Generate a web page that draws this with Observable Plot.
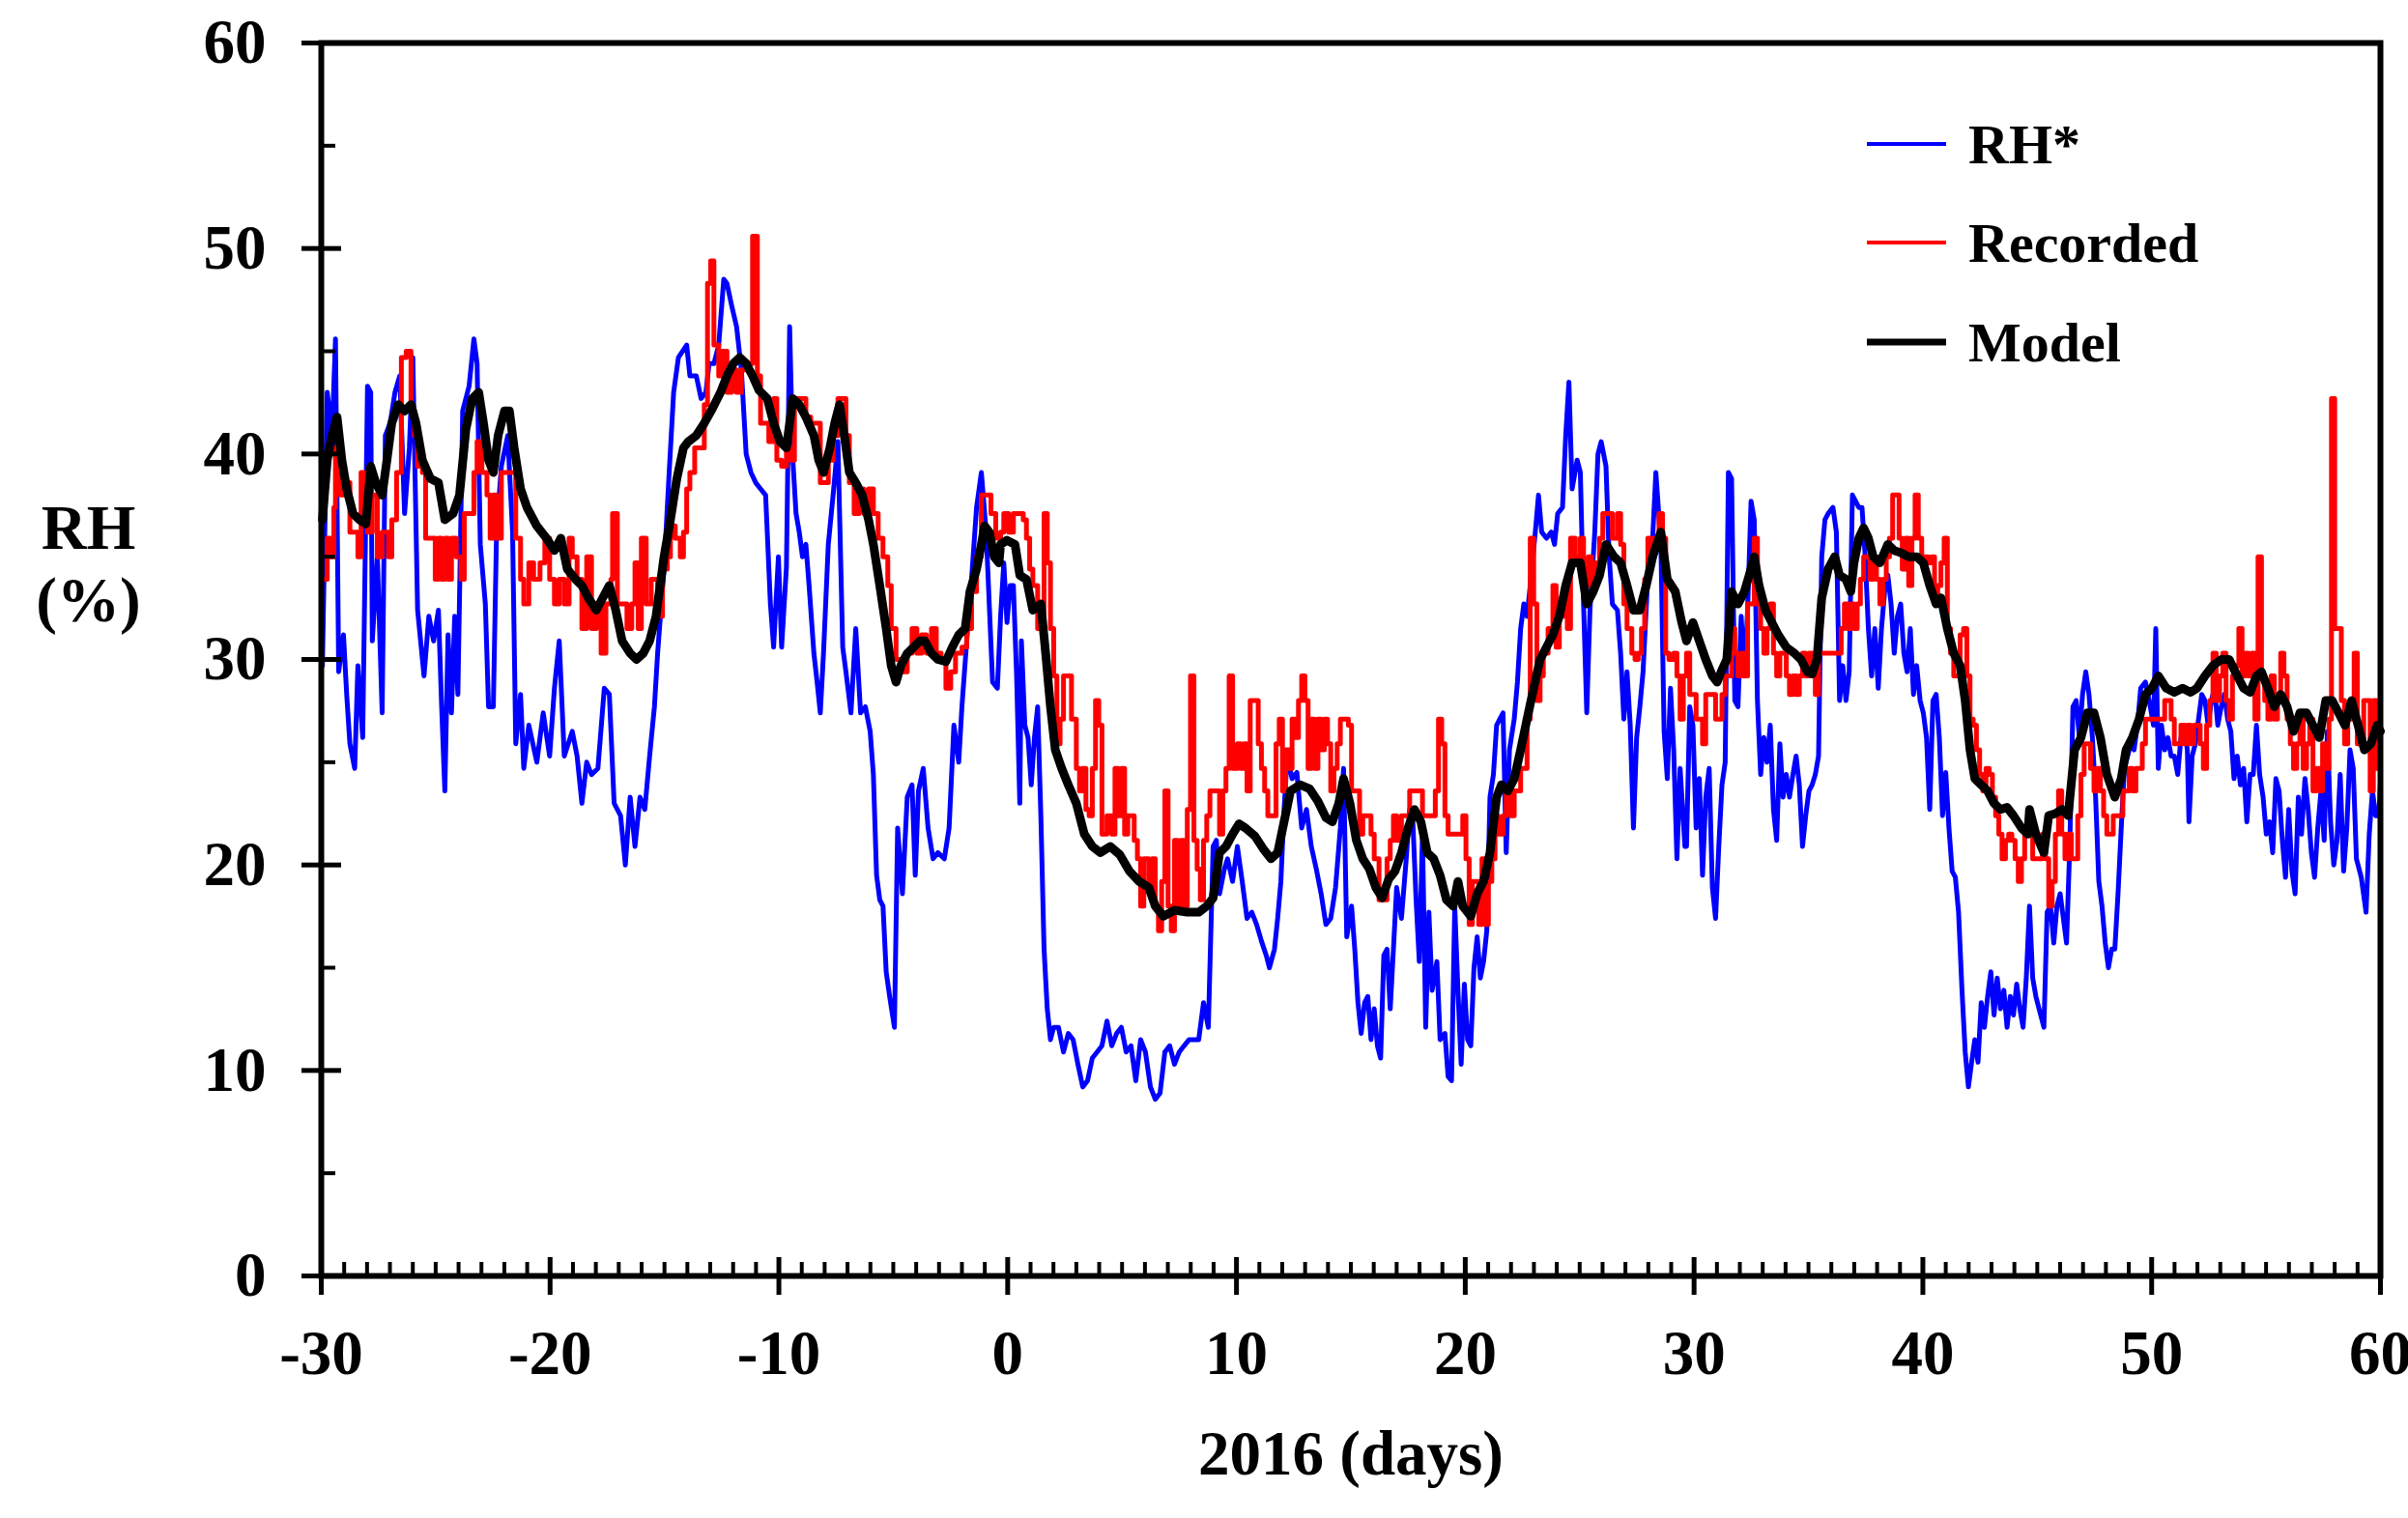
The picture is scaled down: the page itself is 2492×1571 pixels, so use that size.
<!DOCTYPE html>
<html>
<head>
<meta charset="utf-8">
<script src="https://cdn.jsdelivr.net/npm/d3@7"></script>
<script src="https://cdn.jsdelivr.net/npm/@observablehq/plot@0.6"></script>
<style>
html, body { margin: 0; padding: 0; background: #ffffff; }
#wrap { position: relative; width: 2492px; height: 1571px; }
</style>
</head>
<body>
<div id="wrap"></div>
<script>
// ---- Data (day, RH %) ----
const rhStar = [
[-29.95,29.7],[-29.74,43.0],[-29.53,40.9],[-29.38,45.6],[-29.24,29.4],[-29.03,31.2],[-28.89,28.3],[-28.75,25.9],[-28.54,24.7],[-28.40,29.7],[-28.19,26.2],[-27.98,43.3],[-27.84,43.0],[-27.77,30.9],[-27.55,35.0],[-27.34,27.4],[-27.20,40.9],[-26.99,41.5],[-26.78,43.0],[-26.57,43.8],[-26.36,37.1],[-26.15,40.3],[-26.00,44.7],[-25.79,32.4],[-25.51,29.2],[-25.30,32.1],[-25.09,30.9],[-24.88,32.4],[-24.74,27.7],[-24.60,23.6],[-24.46,31.2],[-24.31,27.4],[-24.17,32.1],[-24.03,28.3],[-23.82,42.1],[-23.54,43.3],[-23.33,45.6],[-23.19,44.4],[-23.05,35.6],[-22.83,32.7],[-22.69,27.7],[-22.48,27.7],[-22.34,36.2],[-22.13,39.4],[-21.85,40.9],[-21.64,36.2],[-21.50,25.9],[-21.29,28.3],[-21.15,24.7],[-20.93,26.8],[-20.58,25.0],[-20.30,27.4],[-20.02,25.3],[-19.81,28.6],[-19.60,30.9],[-19.38,25.3],[-19.03,26.5],[-18.82,25.3],[-18.61,23.0],[-18.40,25.0],[-18.19,24.4],[-17.91,24.7],[-17.63,28.6],[-17.41,28.3],[-17.20,23.0],[-16.92,22.4],[-16.71,20.0],[-16.50,23.3],[-16.29,20.9],[-16.07,23.3],[-15.86,22.7],[-15.65,25.3],[-15.44,27.7],
[-15.30,30.3],[-15.02,34.4],[-14.81,38.8],[-14.60,43.0],[-14.39,44.7],[-14.03,45.3],[-13.89,43.8],[-13.61,43.8],[-13.40,42.7],[-13.19,43.0],[-13.05,44.4],[-12.84,44.4],[-12.63,45.3],[-12.41,48.5],[-12.27,48.3],[-12.06,47.2],[-11.85,46.2],[-11.64,44.1],[-11.43,40.0],[-11.22,39.1],[-11.01,38.6],[-10.80,38.3],[-10.58,38.0],[-10.37,32.7],[-10.23,30.6],[-10.02,35.0],[-9.88,30.6],[-9.67,34.5],[-9.53,46.2],[-9.39,39.7],[-9.25,37.1],[-9.11,36.2],[-8.97,35.0],[-8.82,35.6],[-8.68,33.6],[-8.47,30.3],[-8.33,28.9],[-8.19,27.4],[-8.05,30.3],[-7.84,35.6],[-7.63,38.0],[-7.42,40.6],[-7.21,30.6],[-7.07,29.4],[-6.85,27.4],[-6.64,31.5],[-6.43,27.4],[-6.22,27.7],[-6.01,26.5],[-5.87,24.4],[-5.73,19.5],[-5.59,18.3],[-5.45,18.0],[-5.31,14.8],[-5.16,13.6],[-4.95,12.1],[-4.81,21.8],[-4.60,18.6],[-4.39,23.3],[-4.18,23.9],[-4.04,19.5],[-3.90,23.6],[-3.69,24.7],[-3.48,21.8],[-3.26,20.3],[-3.05,20.6],[-2.77,20.3],[-2.56,21.8],[-2.35,26.8],[-2.14,25.0],[-2.00,27.7],[-1.79,30.9],[-1.58,33.9],[-1.36,37.4],[-1.15,39.1],[-0.94,36.2],[-0.66,28.9],[-0.45,28.6],
[-0.31,32.1],[-0.17,34.7],[-0.03,31.8],[0.11,33.6],[0.25,33.6],[0.39,29.2],[0.53,23.0],[0.60,30.9],[0.75,26.8],[0.89,26.2],[1.03,23.9],[1.17,26.2],[1.31,27.7],[1.45,22.4],[1.59,15.9],[1.73,13.0],[1.87,11.5],[2.01,12.1],[2.22,12.1],[2.44,10.9],[2.65,11.8],[2.86,11.5],[3.07,10.3],[3.28,9.2],[3.49,9.5],[3.70,10.6],[3.91,10.9],[4.12,11.2],[4.34,12.4],[4.55,11.2],[4.76,11.8],[4.97,12.1],[5.18,10.9],[5.39,11.2],[5.60,9.5],[5.81,11.5],[6.02,10.9],[6.24,9.2],[6.45,8.6],[6.66,8.9],[6.87,10.9],[7.08,11.2],[7.29,10.3],[7.50,10.9],[7.71,11.2],[7.93,11.5],[8.14,11.5],[8.35,11.5],[8.56,13.3],[8.77,12.1],[8.98,20.9],[9.12,21.2],[9.26,18.6],[9.47,19.8],[9.61,20.3],[9.83,19.2],[10.04,20.9],[10.25,19.2],[10.46,17.4],[10.67,17.7],[10.88,17.1],[11.09,16.3],[11.30,15.6],[11.44,15.0],[11.66,15.9],[11.80,17.4],[11.94,19.2],[12.08,22.7],[12.22,25.3],[12.43,24.2],[12.64,24.5],[12.85,21.8],[13.06,22.7],[13.27,20.9],[13.49,19.8],[13.70,18.6],[13.91,17.1],[14.12,17.4],[14.33,18.9],[14.54,21.8],
[14.68,24.7],[14.82,16.5],[15.03,18.0],[15.17,15.9],[15.31,13.3],[15.45,11.8],[15.60,13.3],[15.74,13.6],[15.88,11.5],[16.02,13.0],[16.16,11.2],[16.30,10.6],[16.44,15.6],[16.58,15.9],[16.72,13.0],[16.86,15.9],[17.00,18.9],[17.21,17.4],[17.42,20.3],[17.57,22.7],[17.71,22.1],[17.85,18.3],[17.99,15.3],[18.13,21.5],[18.27,12.1],[18.41,17.7],[18.55,13.9],[18.76,15.3],[18.90,11.5],[19.11,11.8],[19.25,9.7],[19.40,9.5],[19.54,18.0],[19.68,13.9],[19.82,10.3],[19.96,14.2],[20.10,11.5],[20.24,11.2],[20.38,15.0],[20.52,16.5],[20.66,14.5],[20.80,15.3],[20.94,16.8],[21.08,23.3],[21.23,24.4],[21.37,26.8],[21.51,27.1],[21.65,27.4],[21.79,20.6],[21.93,25.6],[22.14,27.1],[22.28,28.9],[22.42,31.5],[22.56,32.7],[22.70,32.1],[22.84,33.6],[23.06,36.2],[23.20,38.0],[23.34,36.2],[23.55,35.9],[23.76,36.2],[23.90,35.6],[24.04,37.1],[24.25,37.4],[24.39,40.9],[24.53,43.5],[24.67,38.3],[24.89,39.7],[25.03,39.1],[25.17,32.7],[25.31,27.4],[25.45,32.4],[25.66,36.2],[25.80,40.0],[25.94,40.6],[26.15,39.4],[26.29,35.0],[26.43,32.7],[26.65,32.4],[26.79,30.3],[26.93,27.1],[27.07,29.4],[27.21,26.8],[27.35,21.8],[27.49,26.2],[27.63,27.7],[27.77,29.4],[27.98,34.1],[28.19,35.9],[28.33,39.1],[28.55,35.6],[28.69,26.5],[28.83,24.2],[28.97,28.6],[29.11,25.6],[29.25,20.3],[29.39,24.7],[29.60,20.9],
[29.67,20.9],[29.81,27.7],[29.95,26.8],[30.09,21.8],[30.23,24.2],[30.37,19.5],[30.51,23.3],[30.66,24.7],[30.80,18.9],[30.94,17.4],[31.08,20.9],[31.22,23.9],[31.36,25.0],[31.50,39.1],[31.64,38.8],[31.78,28.0],[31.92,27.7],[32.06,32.1],[32.20,29.2],[32.34,32.4],[32.49,37.7],[32.63,36.8],[32.77,28.0],[32.91,24.4],[33.05,26.2],[33.19,25.0],[33.33,26.8],[33.47,22.7],[33.61,21.2],[33.75,25.9],[33.89,23.3],[34.03,24.4],[34.17,23.3],[34.32,24.4],[34.46,25.3],[34.60,23.9],[34.74,20.9],[34.88,22.4],[35.02,23.6],[35.16,23.9],[35.30,24.4],[35.44,25.3],[35.58,35.0],[35.72,36.8],[35.86,37.1],[36.07,37.4],[36.22,36.2],[36.36,28.0],[36.50,29.7],[36.64,28.0],[36.78,29.4],[36.92,38.0],[37.06,37.7],[37.20,37.4],[37.34,37.4],[37.48,35.0],[37.62,31.5],[37.76,29.2],[37.90,31.5],[38.05,28.6],[38.19,31.5],[38.33,33.3],[38.47,34.1],[38.61,32.7],[38.75,30.3],[38.89,32.1],[39.03,32.7],[39.17,30.3],[39.31,29.4],[39.45,31.5],[39.59,28.3],[39.73,29.7],[39.88,28.0],[40.02,27.4],[40.16,26.2],[40.30,22.7],[40.44,28.0],[40.58,28.3],[40.72,26.2],[40.86,22.4],[41.00,24.5],[41.14,21.8],[41.28,19.7],[41.42,19.4],[41.56,17.7],[41.71,13.9],[41.85,10.9],[41.99,9.2],[42.13,10.4],[42.27,11.5],[42.41,10.4],[42.55,13.3],[42.69,12.1],[42.83,13.6],[42.97,14.8],[43.11,12.7],[43.25,14.5],[43.39,13.0],[43.54,13.9],[43.68,12.1],[43.82,13.6],[43.96,12.7],[44.10,14.2],[44.24,13.0],[44.38,12.1],[44.52,14.5],
[44.66,18.0],[44.80,14.5],[44.94,13.6],[45.08,13.0],[45.29,12.1],[45.43,17.7],[45.58,18.0],[45.72,16.2],[45.86,18.0],[46.00,18.6],[46.14,17.4],[46.28,16.2],[46.42,20.9],[46.56,27.7],[46.70,28.0],[46.84,26.2],[46.98,28.3],[47.12,29.4],[47.26,28.3],[47.41,26.2],[47.55,23.3],[47.69,19.2],[47.83,18.0],[47.97,16.2],[48.11,15.0],[48.25,15.9],[48.39,15.9],[48.53,18.6],[48.67,21.8],[48.81,24.7],[48.95,25.3],[49.09,25.9],[49.23,25.6],[49.38,26.8],[49.52,28.6],[49.73,28.9],[49.94,27.7],[50.08,26.8],[50.18,31.5],[50.29,24.7],[50.43,26.8],[50.57,25.6],[50.71,26.2],[50.85,25.3],[50.99,25.3],[51.14,24.4],[51.28,26.2],[51.42,26.8],[51.56,25.6],[51.63,22.1],[51.77,25.3],[51.91,25.9],[52.05,27.1],[52.19,28.3],[52.33,28.0],[52.47,26.8],[52.61,28.0],[52.75,28.6],[52.89,26.8],[53.04,27.7],[53.18,28.3],[53.32,27.1],[53.46,26.5],[53.60,24.2],[53.74,25.3],[53.88,23.9],[54.02,24.7],[54.16,22.1],[54.30,24.4],[54.44,24.4],[54.58,26.8],[54.72,24.4],[54.87,23.3],[55.01,21.5],[55.15,22.1],[55.29,20.6],[55.43,24.2],[55.57,23.6],[55.71,21.2],[55.85,19.4],[55.99,22.7],[56.13,19.7],[56.27,18.6],[56.41,23.3],[56.55,21.5],[56.70,24.2],[56.84,22.7],[56.98,20.6],[57.12,19.4],[57.26,21.8],[57.40,23.6],[57.54,21.2],[57.68,26.5],[57.82,22.1],[57.96,20.0],[58.10,21.2],[58.24,24.4],[58.39,19.7],[58.53,21.8],[58.67,25.6],[58.81,24.7],[58.95,20.3],[59.16,19.4],[59.37,17.7],[59.51,21.5],[59.65,23.6],[59.79,22.4],[59.93,22.4],[60.00,24.0]
];

const recorded = [
[-29.95,33.9],[-29.74,35.9],[-29.60,35.0],[-29.45,37.4],[-29.38,40.3],[-29.17,38.0],[-28.96,38.6],[-28.75,36.2],[-28.54,36.2],[-28.40,35.0],[-28.26,39.1],[-28.12,37.4],[-27.98,36.2],[-27.77,38.0],[-27.55,35.0],[-27.34,36.2],[-27.06,35.0],[-26.92,36.8],[-26.71,39.1],[-26.50,44.7],[-26.29,45.0],[-26.08,42.1],[-25.93,40.9],[-25.79,39.4],[-25.58,39.1],[-25.44,35.9],[-25.23,35.9],[-25.02,33.9],[-24.88,35.9],[-24.74,33.9],[-24.60,35.9],[-24.46,33.9],[-24.31,35.9],[-24.10,35.0],[-23.89,33.9],[-23.75,37.1],[-23.54,37.1],[-23.33,39.1],[-23.19,40.6],[-22.98,39.1],[-22.76,38.0],[-22.62,35.9],[-22.48,38.0],[-22.34,35.9],[-22.13,39.1],[-21.85,39.1],[-21.64,39.1],[-21.50,35.9],[-21.29,33.9],[-21.15,32.7],[-20.93,34.7],[-20.72,33.9],[-20.44,34.7],[-20.23,35.9],[-20.02,33.9],[-19.81,32.7],[-19.60,33.9],[-19.38,32.7],[-19.17,35.9],[-19.03,35.0],[-18.82,33.9],[-18.61,31.5],[-18.40,35.0],[-18.19,31.5],[-17.98,32.7],[-17.77,30.3],[-17.56,32.7],[-17.34,33.9],[-17.27,37.1],[-17.06,32.7],[-16.85,32.7],[-16.64,31.5],[-16.43,32.7],[-16.29,34.7],[-16.15,31.5],[-16.01,35.9],[-15.80,32.7],[-15.58,33.9],[-15.37,33.9],
[-15.30,32.1],[-15.09,34.4],[-14.88,35.0],[-14.74,36.5],[-14.53,35.9],[-14.31,35.0],[-14.17,36.2],[-14.03,38.3],[-13.89,39.1],[-13.68,40.3],[-13.47,40.3],[-13.26,42.4],[-13.12,48.3],[-12.98,49.4],[-12.84,45.3],[-12.63,43.8],[-12.48,45.0],[-12.27,43.0],[-12.06,44.1],[-11.85,43.0],[-11.64,44.1],[-11.43,44.4],[-11.15,50.6],[-10.94,43.8],[-10.80,41.5],[-10.58,41.5],[-10.44,40.6],[-10.23,42.7],[-10.09,39.7],[-9.88,39.4],[-9.67,40.3],[-9.46,39.7],[-9.32,42.7],[-9.04,42.7],[-8.82,41.8],[-8.61,41.5],[-8.40,41.5],[-8.19,38.6],[-7.98,38.6],[-7.84,39.7],[-7.63,40.9],[-7.42,42.7],[-7.21,42.7],[-7.07,40.9],[-6.92,38.6],[-6.71,37.1],[-6.50,38.3],[-6.29,37.1],[-6.08,38.3],[-5.87,37.1],[-5.66,35.9],[-5.45,35.0],[-5.24,33.6],[-5.09,31.5],[-4.88,30.0],[-4.60,29.4],[-4.39,30.3],[-4.18,31.5],[-3.97,30.3],[-3.76,31.2],[-3.55,30.3],[-3.33,31.5],[-3.12,30.3],[-2.91,30.0],[-2.70,28.6],[-2.49,29.4],[-2.28,30.3],[-2.00,30.6],[-1.79,31.5],[-1.58,33.3],[-1.36,35.0],[-1.15,38.0],[-0.94,38.0],[-0.73,37.1],[-0.52,35.9],
[-0.31,36.2],[-0.17,37.1],[0.04,36.2],[0.25,37.1],[0.46,37.1],[0.68,36.8],[0.82,35.9],[0.96,34.4],[1.10,33.6],[1.31,31.5],[1.45,32.1],[1.59,37.1],[1.73,34.7],[1.87,31.5],[2.01,29.2],[2.15,25.9],[2.29,27.1],[2.44,29.2],[2.65,29.2],[2.79,27.1],[3.00,24.7],[3.14,23.6],[3.28,24.7],[3.42,22.7],[3.56,22.4],[3.70,24.7],[3.84,28.0],[3.98,26.8],[4.12,21.5],[4.34,22.4],[4.55,21.5],[4.69,24.7],[4.83,22.4],[4.97,24.7],[5.11,21.5],[5.25,22.4],[5.39,22.4],[5.53,21.2],[5.67,20.3],[5.81,18.0],[5.95,20.3],[6.17,18.9],[6.31,20.3],[6.45,18.0],[6.59,16.8],[6.73,19.2],[6.87,23.6],[7.01,18.0],[7.15,16.8],[7.29,21.2],[7.43,18.0],[7.57,21.2],[7.71,18.0],[7.85,22.7],[7.99,29.2],[8.14,21.2],[8.28,19.8],[8.42,18.3],[8.56,21.2],[8.70,22.4],[8.84,23.6],[9.05,23.6],[9.26,21.5],[9.40,23.6],[9.54,24.7],[9.68,29.2],[9.83,24.7],[10.04,25.9],[10.18,24.7],[10.32,25.9],[10.46,23.6],[10.60,28.0],[10.81,28.0],[10.95,25.9],[11.09,24.7],[11.23,23.6],[11.37,22.4],[11.58,22.4],[11.73,25.9],[11.87,27.1],[12.01,23.6],[12.15,25.6],[12.29,24.7],[12.43,27.1],[12.57,26.2],[12.71,28.0],[12.85,29.2],[12.99,28.0],[13.13,24.7],[13.27,27.1],[13.41,24.7],[13.56,27.1],[13.70,25.6],[13.84,27.1],[13.98,25.9],[14.12,23.6],[14.26,24.7],[14.40,25.9],[14.54,27.1],
[14.68,27.1],[14.89,26.8],[15.03,23.6],[15.24,23.6],[15.38,21.5],[15.52,22.4],[15.74,22.4],[15.88,21.5],[16.02,20.3],[16.23,18.3],[16.44,18.3],[16.58,20.3],[16.72,21.2],[16.86,22.4],[17.00,21.2],[17.21,22.4],[17.42,22.4],[17.57,23.6],[17.78,23.6],[17.99,23.6],[18.13,22.4],[18.34,22.4],[18.55,22.4],[18.69,23.6],[18.83,27.1],[18.97,25.9],[19.11,22.4],[19.25,21.5],[19.47,21.5],[19.68,21.5],[19.89,22.4],[20.03,20.3],[20.17,17.1],[20.31,19.2],[20.45,19.2],[20.59,17.1],[20.73,20.3],[20.87,17.1],[21.01,19.2],[21.16,20.3],[21.30,22.4],[21.44,21.5],[21.65,22.4],[21.79,23.6],[22.00,22.4],[22.14,23.6],[22.28,23.6],[22.42,24.7],[22.56,24.7],[22.70,27.1],[22.84,35.9],[22.99,32.7],[23.13,28.0],[23.27,29.2],[23.41,30.3],[23.62,31.5],[23.83,33.6],[23.97,30.6],[24.11,32.1],[24.32,33.6],[24.46,31.5],[24.60,35.9],[24.81,35.0],[25.03,35.9],[25.17,33.6],[25.38,35.0],[25.52,33.6],[25.66,34.7],[25.87,35.9],[26.01,37.1],[26.22,37.1],[26.43,35.9],[26.65,37.1],[26.79,35.6],[26.93,32.7],[27.07,31.5],[27.28,30.3],[27.42,30.0],[27.56,30.3],[27.70,31.5],[27.84,33.9],[27.98,35.9],[28.12,35.0],[28.26,35.9],[28.47,37.1],[28.62,35.9],[28.76,30.3],[28.90,30.0],[29.11,30.3],[29.25,29.2],[29.39,27.1],[29.53,29.2],
[29.67,30.3],[29.81,28.3],[30.09,27.1],[30.37,25.9],[30.51,28.3],[30.94,27.1],[31.22,28.3],[31.36,29.2],[31.64,31.5],[31.78,30.3],[31.92,29.2],[32.06,30.3],[32.20,29.2],[32.34,32.7],[32.63,35.9],[32.77,32.7],[32.91,31.5],[33.05,30.3],[33.19,31.5],[33.33,32.7],[33.47,30.3],[33.61,29.2],[33.75,30.3],[34.03,29.2],[34.17,28.3],[34.32,29.2],[34.46,28.3],[34.60,29.2],[34.74,30.3],[34.88,29.2],[35.02,30.3],[35.16,29.2],[35.30,28.3],[35.44,30.3],[36.43,31.5],[36.57,32.7],[36.71,31.5],[36.85,32.7],[36.99,31.5],[37.13,32.7],[37.27,33.9],[37.41,35.0],[37.69,33.9],[37.83,35.0],[37.97,33.9],[38.12,32.7],[38.26,33.9],[38.40,35.0],[38.54,35.9],[38.68,38.0],[38.96,35.9],[39.10,34.4],[39.24,35.9],[39.38,33.6],[39.52,35.9],[39.66,38.0],[39.80,35.9],[39.95,35.0],[40.23,34.7],[40.37,35.0],[40.51,32.7],[40.65,33.6],[40.79,34.7],[40.93,35.9],[41.07,31.5],[41.21,30.3],[41.35,29.2],[41.63,31.2],[41.78,31.5],[41.92,29.2],[42.06,27.1],[42.20,26.8],[42.34,25.6],[42.48,24.4],[42.62,23.6],[42.76,24.7],[42.90,24.4],[43.04,23.3],[43.18,22.4],[43.32,21.5],[43.46,20.3],[43.61,21.2],[43.75,21.5],[43.89,21.2],[44.03,20.3],[44.17,19.2],[44.31,20.3],[44.45,21.5],
[44.66,21.5],[44.80,20.3],[45.22,21.5],[45.36,20.3],[45.50,18.0],[45.65,19.2],[45.79,21.5],[45.93,23.6],[46.07,21.5],[46.21,20.3],[46.35,21.5],[46.49,20.3],[46.77,22.4],[46.91,24.4],[47.05,25.9],[47.33,24.7],[47.48,23.6],[47.62,24.7],[47.76,23.6],[47.90,22.4],[48.04,21.5],[48.32,22.4],[48.74,23.6],[49.02,24.7],[49.16,23.6],[49.31,24.7],[49.59,25.9],[49.73,27.1],[50.57,28.0],[50.85,27.1],[50.99,25.9],[51.28,26.8],[51.42,25.9],[51.56,26.8],[51.70,25.9],[51.84,26.8],[52.12,25.9],[52.26,24.7],[52.40,26.8],[52.54,28.0],[52.68,30.3],[52.82,28.0],[52.97,29.2],[53.11,30.3],[53.25,28.0],[53.39,27.1],[53.53,29.2],[53.67,29.7],[53.81,31.5],[53.95,29.2],[54.09,30.3],[54.23,29.2],[54.37,30.3],[54.51,27.1],[54.65,35.0],[54.80,29.2],[54.94,28.0],[55.08,27.1],[55.22,29.2],[55.36,27.1],[55.50,28.0],[55.64,30.3],[55.78,29.2],[55.92,27.1],[56.06,25.9],[56.20,24.7],[56.34,25.9],[56.48,27.1],[56.62,24.7],[56.77,25.9],[56.91,27.1],[57.05,23.6],[57.19,24.7],[57.33,23.6],[57.47,25.9],[57.61,24.7],[57.75,27.1],[57.86,42.7],[58.00,31.5],[58.14,31.5],[58.29,28.0],[58.43,25.9],[58.57,27.1],[58.85,30.3],[58.99,25.9],[59.27,28.0],[59.41,28.0],[59.55,23.6],[59.69,28.0],[59.83,24.7],[60.00,25.9]
];

const model = [
[-29.95,36.8],[-29.74,39.7],[-29.53,40.9],[-29.31,41.8],[-29.10,39.7],[-28.89,38.3],[-28.61,37.1],[-28.33,36.8],[-28.05,36.6],[-27.84,39.4],[-27.62,38.6],[-27.34,38.0],[-27.13,39.7],[-26.92,41.5],[-26.64,42.4],[-26.36,42.1],[-26.08,42.4],[-25.86,41.5],[-25.58,39.7],[-25.23,38.8],[-24.88,38.6],[-24.60,36.8],[-24.24,37.1],[-23.96,38.0],[-23.68,41.2],[-23.40,42.7],[-23.12,43.0],[-22.91,41.5],[-22.69,39.7],[-22.48,39.1],[-22.27,40.9],[-21.99,42.1],[-21.78,42.1],[-21.57,40.3],[-21.29,38.3],[-21.01,37.4],[-20.58,36.5],[-20.16,35.9],[-19.81,35.3],[-19.53,35.9],[-19.25,34.4],[-18.89,33.9],[-18.61,33.6],[-18.33,33.0],[-17.98,32.4],[-17.70,33.0],[-17.41,33.6],[-17.13,32.4],[-16.85,30.9],[-16.50,30.3],[-16.22,30.0],[-15.93,30.3],[-15.65,30.9],[-15.37,32.1],
[-15.30,32.7],[-15.02,35.0],[-14.74,36.8],[-14.46,38.8],[-14.17,40.3],[-13.96,40.6],[-13.61,40.9],[-13.26,41.5],[-12.91,42.2],[-12.55,43.0],[-12.27,43.8],[-11.99,44.4],[-11.71,44.7],[-11.43,44.4],[-11.15,43.8],[-10.87,43.1],[-10.51,42.7],[-10.23,41.5],[-9.95,40.6],[-9.67,40.3],[-9.53,41.5],[-9.39,42.7],[-9.11,42.4],[-8.82,41.8],[-8.47,40.9],[-8.26,39.7],[-8.05,39.1],[-7.77,40.3],[-7.56,41.5],[-7.35,42.4],[-7.14,40.9],[-6.92,39.1],[-6.64,38.6],[-6.36,38.0],[-6.08,36.8],[-5.87,35.6],[-5.59,33.6],[-5.31,31.5],[-5.09,29.7],[-4.88,28.9],[-4.67,29.7],[-4.39,30.3],[-4.11,30.6],[-3.83,30.9],[-3.62,30.9],[-3.33,30.3],[-3.05,30.0],[-2.70,29.9],[-2.42,30.6],[-2.14,31.2],[-1.86,31.5],[-1.65,33.3],[-1.36,34.4],[-1.15,35.6],[-1.01,36.5],[-0.80,36.2],[-0.59,35.0],[-0.38,34.7],
[-0.31,35.6],[-0.03,35.8],[0.32,35.6],[0.53,34.1],[0.82,33.9],[1.10,32.4],[1.45,32.7],[1.66,30.3],[1.87,27.7],[2.08,25.6],[2.36,24.7],[2.65,23.9],[3.00,23.0],[3.35,21.5],[3.70,20.9],[4.05,20.6],[4.48,20.9],[4.90,20.5],[5.32,19.7],[5.74,19.2],[6.17,18.9],[6.45,18.0],[6.80,17.5],[7.29,17.8],[7.85,17.7],[8.35,17.7],[8.70,18.0],[8.98,18.4],[9.26,20.6],[9.54,20.9],[9.83,21.5],[10.11,22.0],[10.39,21.8],[10.81,21.4],[11.16,20.8],[11.51,20.3],[11.80,20.6],[12.08,22.1],[12.36,23.6],[12.78,23.9],[13.20,23.7],[13.56,23.1],[13.91,22.3],[14.19,22.1],[14.47,23.0],
[14.68,24.2],[14.96,23.0],[15.24,21.2],[15.52,20.3],[15.81,19.8],[16.09,18.9],[16.37,18.4],[16.65,19.3],[16.93,19.7],[17.21,20.6],[17.50,21.8],[17.78,22.7],[18.06,22.1],[18.34,20.6],[18.62,20.3],[18.90,19.5],[19.18,18.3],[19.47,18.0],[19.68,19.2],[19.89,18.0],[20.24,17.5],[20.52,18.6],[20.80,19.2],[21.08,20.6],[21.37,23.3],[21.58,23.9],[21.86,23.6],[22.14,24.2],[22.42,25.6],[22.70,27.1],[22.99,28.6],[23.27,30.0],[23.55,30.6],[23.83,31.2],[24.11,32.1],[24.39,33.6],[24.67,34.7],[25.03,34.7],[25.31,32.7],[25.59,33.3],[25.87,34.1],[26.15,35.6],[26.50,35.0],[26.79,34.7],[27.07,33.6],[27.35,32.4],[27.63,32.4],[27.91,33.6],[28.19,35.0],[28.55,36.2],[28.83,33.9],[29.18,33.3],[29.46,31.8],
[29.67,30.9],[29.95,31.8],[30.23,30.9],[30.51,30.0],[30.80,29.2],[31.01,28.9],[31.22,29.5],[31.43,30.0],[31.64,33.3],[31.92,32.7],[32.20,33.3],[32.41,34.1],[32.63,35.0],[32.84,33.6],[33.12,32.4],[33.40,31.8],[33.68,31.2],[34.03,30.6],[34.39,30.3],[34.67,30.0],[34.95,29.4],[35.16,29.3],[35.37,30.0],[35.58,33.0],[35.86,34.4],[36.15,35.0],[36.36,34.1],[36.64,33.9],[36.85,33.3],[36.99,34.7],[37.20,35.9],[37.41,36.4],[37.62,35.9],[37.83,35.0],[38.12,34.7],[38.47,35.6],[38.75,35.3],[39.03,35.2],[39.38,35.0],[39.73,35.0],[40.02,34.7],[40.30,33.6],[40.58,32.7],[40.79,33.0],[41.07,31.5],[41.35,30.3],[41.63,29.7],[41.85,28.0],[42.06,25.6],[42.27,24.2],[42.55,23.9],[42.83,23.6],[43.11,23.0],[43.39,22.7],[43.68,22.8],[43.96,22.4],[44.31,21.8],[44.59,21.5],
[44.66,22.7],[44.94,21.5],[45.29,20.6],[45.50,22.4],[45.79,22.5],[46.07,22.7],[46.35,22.4],[46.63,25.6],[46.91,26.2],[47.19,27.4],[47.48,27.4],[47.76,26.2],[48.04,24.4],[48.39,23.3],[48.67,24.2],[48.88,25.6],[49.16,26.2],[49.45,27.1],[49.73,28.3],[50.01,28.6],[50.29,29.2],[50.64,28.6],[50.99,28.4],[51.35,28.6],[51.70,28.4],[51.98,28.6],[52.33,29.2],[52.68,29.7],[53.04,30.0],[53.39,30.0],[53.74,29.2],[54.02,28.6],[54.30,28.4],[54.58,29.2],[54.80,29.4],[55.08,28.6],[55.36,27.7],[55.64,28.3],[55.92,27.7],[56.20,26.5],[56.48,27.4],[56.77,27.4],[57.05,26.8],[57.33,26.2],[57.61,28.0],[57.89,28.0],[58.17,27.4],[58.45,26.8],[58.74,28.0],[59.02,26.8],[59.30,25.6],[59.58,25.9],[59.86,26.8],[60.00,26.5]
];

const xTicks = [-30, -20, -10, 0, 10, 20, 30, 40, 50, 60];
const xMinorTicks = d3.range(-29, 60, 1).filter(d => d % 10 !== 0);
const yTicks = [0, 10, 20, 30, 40, 50, 60];
const yMinorTicks = [5, 15, 25, 35, 45, 55];
const seriesNames = ["RH*", "Recorded", "Model"];
const seriesColors = ["#0000ff", "#ff0000", "#000000"];
const seriesWidths = [5, 5, 9];
const legendWidths = [4, 4, 7];
const yLabel = "RH\n(%)";
const xLabel = "2016 (days)";

// ---- Layout ----
const W = 2492, H = 1571;
const ML = 332, MR = 29, MT = 44, MB = 251;
const FW = W - ML - MR, FH = H - MT - MB;
const FONT = "'Liberation Serif', 'Times New Roman', Times, serif";

const chart = Plot.plot({
  width: W,
  height: H,
  marginLeft: ML,
  marginRight: MR,
  marginTop: MT,
  marginBottom: MB,
  style: { fontFamily: FONT, background: "#ffffff", color: "#000000", overflow: "visible" },
  x: { domain: [-30, 60] },
  y: { domain: [0, 60] },
  marks: [
    Plot.line(rhStar, { x: d => d[0], y: d => d[1], stroke: seriesColors[0], strokeWidth: seriesWidths[0] }),
    Plot.line(recorded, { x: d => d[0], y: d => d[1], stroke: seriesColors[1], strokeWidth: seriesWidths[1], curve: "step-after" }),
    Plot.line(model, { x: d => d[0], y: d => d[1], stroke: seriesColors[2], strokeWidth: seriesWidths[2], strokeLinejoin: "round" }),
    // inward ticks
    Plot.tickX(xMinorTicks, { x: d => d, insetTop: FH - 14, stroke: "#000", strokeWidth: 4 }),
    Plot.tickX(xTicks, { x: d => d, insetTop: FH - 19, stroke: "#000", strokeWidth: 5 }),
    Plot.tickY(yMinorTicks, { y: d => d, insetRight: FW - 15, stroke: "#000", strokeWidth: 4 }),
    Plot.tickY(yTicks, { y: d => d, insetRight: FW - 21, stroke: "#000", strokeWidth: 5 }),
    // outward ticks + labels
    Plot.axisX(xTicks, {
      tickSize: 20, tickPadding: 35, strokeWidth: 5,
      fontSize: 65, fontWeight: "bold", fontFamily: FONT,
      tickFormat: d => String(d), label: null
    }),
    Plot.axisY(yTicks, {
      tickSize: 20, tickPadding: 37, strokeWidth: 5,
      fontSize: 65, fontWeight: "bold", fontFamily: FONT,
      tickFormat: d => String(d), label: null
    }),
    Plot.frame({ stroke: "#000", strokeWidth: 6 }),
    Plot.text([yLabel], {
      text: d => d, frameAnchor: "left", dx: -241, dy: -101,
      textAnchor: "middle", lineAnchor: "middle", lineHeight: 1.15,
      fontSize: 65, fontWeight: "bold", fontFamily: FONT, fill: "#000"
    }),
    Plot.text([xLabel], {
      text: d => d, frameAnchor: "bottom", dy: 185,
      textAnchor: "middle", lineAnchor: "middle",
      fontSize: 65, fontWeight: "bold", fontFamily: FONT, fill: "#000"
    })
  ]
});

const wrap = document.getElementById("wrap");
wrap.appendChild(chart);

// ---- Legend overlay (inside the plot, upper right) ----
const legendLineX = [1932, 2014];
const legendTextX = 2037;
const legendRowY = [149, 251, 354];
const legend = d3.create("svg")
  .attr("width", W).attr("height", H)
  .style("position", "absolute").style("left", "0px").style("top", "0px")
  .style("pointer-events", "none");
seriesNames.forEach((name, i) => {
  legend.append("line")
    .attr("x1", legendLineX[0]).attr("x2", legendLineX[1])
    .attr("y1", legendRowY[i]).attr("y2", legendRowY[i])
    .attr("stroke", seriesColors[i]).attr("stroke-width", legendWidths[i]);
  legend.append("text")
    .attr("x", legendTextX).attr("y", legendRowY[i] + 20)
    .attr("font-family", FONT).attr("font-weight", "bold").attr("font-size", 58)
    .attr("fill", "#000").text(name);
});
wrap.appendChild(legend.node());
</script>
</body>
</html>
